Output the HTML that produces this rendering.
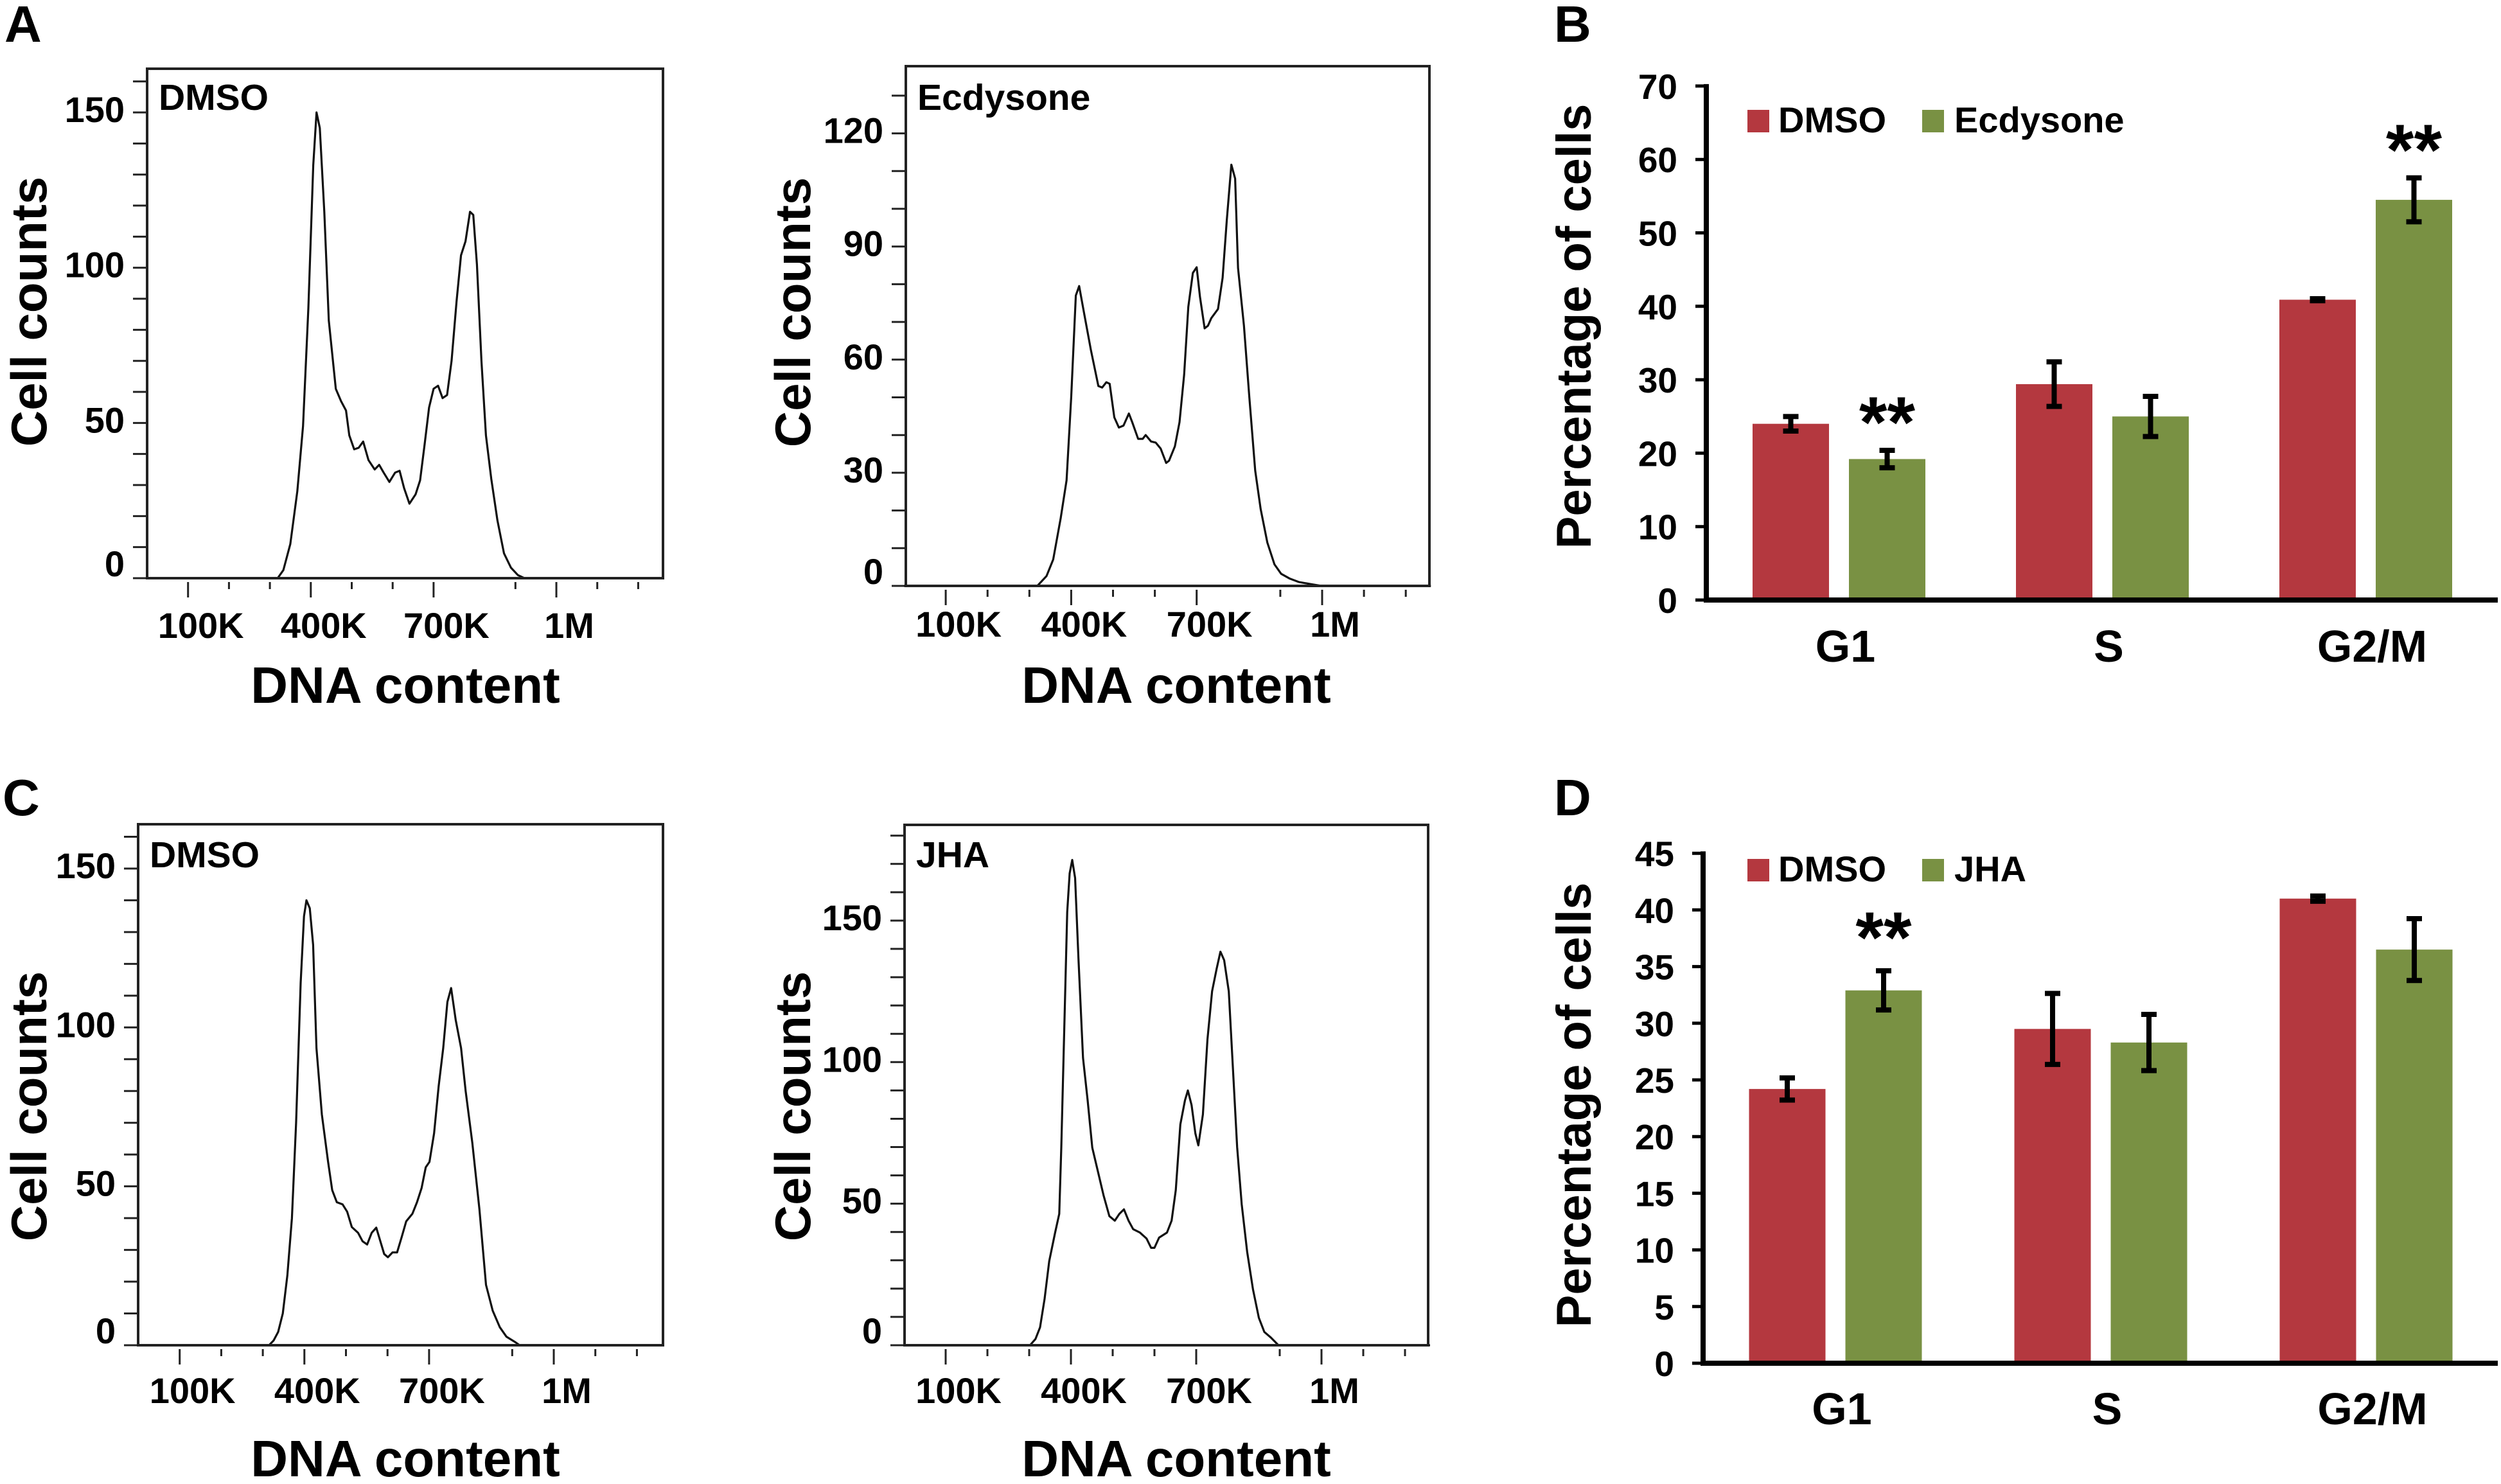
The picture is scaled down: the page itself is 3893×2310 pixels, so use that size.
<!DOCTYPE html>
<html><head><meta charset="utf-8"><style>
html,body{margin:0;padding:0;background:#fff}
svg{display:block}
text{font-family:"Liberation Sans",Arial,sans-serif;font-weight:bold;fill:#000}
</style></head><body>
<svg id="fig" xmlns="http://www.w3.org/2000/svg" width="3893" height="2310" viewBox="0 0 3893 2310">
<rect width="3893" height="2310" fill="#fff"/>
</svg>
<script>
// ---- Histogram data (DNA content in K, cell counts) ----
const hA1x=[0,319,333,350,367,381,394,406,414,422,433,444,461,474,486,494,506,517,528,541,556,567,578,592,606,617,628,641,656,667,678,689,700,711,722,733,744,756,767,778,789,797,806,817,828,841,856,872,889,906,922,1260];
const hA1y=[0,0,2.6,11,28,49,87,133,150,145,118,83,61,57,54,46,41.5,42,44,38,35,36.5,34,31,34,34.6,29,24,27,31.5,43,55,61,62,58,59,70,89,104,108.5,118,117,101,70,46,32,18.6,8,3.4,1,0,0];
const hA2x=[0,319,341,357,375,389,400,411,419,429,447,465,474,484,492,503,514,525,538,546,560,571,578,591,602,614,627,634,648,659,670,680,691,700,708,719,727,735,751,762,772,783,792,799,813,826,840,853,869,886,902,923,945,977,998,1260];
const hA2y=[0,0,2.6,7,18,28,50,77,79.5,73.4,62.6,53,52.6,54,53.6,44.7,42,42.5,45.7,43.4,39,39,40,38.3,38,36.4,32.6,33.2,37,43.4,56,74,83,84.5,76.6,68.3,69,71,73.4,81.7,97,111.7,108,84.3,69,50,30.6,20.4,11.5,5.7,3.2,1.9,1,0.4,0,0];
const hC1x=[0,315,326,337,348,359,370,380,391,399,405,413,421,429,442,457,467,478,492,503,514,529,540,551,562,573,582,592,601,612,623,634,645,660,671,682,692,701,712,723,734,744,753,764,777,788,804,821,837,853,870,886,908,918,1260];
const hC1y=[0,0,1.5,4.2,10,22,40,70,114,135,140,137.5,126,93.5,72.6,57.7,48.8,45,44.3,42,37.2,35.4,32.7,31.7,35.4,37,33,28.7,27.7,29.2,29.2,34,39,41.4,45,49.5,56,57.7,66.7,81.5,93.5,108,112.4,102.4,93.5,80,63.7,42.9,19,10.9,5.7,2.7,0.9,0,0];
const hC2x=[0,302,315,326,337,348,362,372,377,384,391,397,403,410,418,429,440,451,462,478,492,505,516,527,538,549,565,581,592,600,611,630,641,651,662,673,680,689,698,705,716,727,738,749,758,767,778,789,798,809,822,836,850,863,879,897,1260];
const hC2y=[0,0,2.2,6.3,16.4,29.7,39.7,46.4,70,111.6,153,166.7,171.4,165,136.6,101.5,86.5,69.8,63,53,45.6,44,46.4,48,44,41,39.8,37.7,34.4,34.4,38,39.8,44,54.8,78,86.5,90,84.8,74.8,70.6,81.5,108,125,133,139,136,125,95,70,49.8,33,19.7,9.7,4.7,2.7,0,0];
const xTickVals=[100,200,300,400,500,600,700,900,1000,1100,1200];
const xTickLabels=["100K","400K","700K","1M"];
const xLabelVals=[100,400,700,1000];

// ---- Bar chart data ----
const phases=["G1","S","G2/M"];
const bDmso=[24.0,29.4,40.9];
const bEcd=[19.2,25.0,54.5];
const bDmsoErr=[1.25,3.3,0.4];
const bEcdErr=[1.45,3.0,3.25];
const bSig=["**","","**"];
const bTicks=[0,10,20,30,40,50,60,70];
const dDmso=[24.2,29.5,41.0];
const dJha=[32.9,28.3,36.5];
const dDmsoErr=[1.15,3.3,0.4];
const dJhaErr=[1.9,2.65,2.9];
const dSig=["**","",""];
const dTicks=[0,5,10,15,20,25,30,35,40,45];

const NS="http://www.w3.org/2000/svg";
const svg=document.getElementById('fig');
function mk(tag,attrs,parent,txt){const e=document.createElementNS(NS,tag);for(const k in attrs)e.setAttribute(k,attrs[k]);if(txt!==undefined)e.textContent=txt;(parent||svg).appendChild(e);return e;}

function histogram(cfg,xs,ys){
  const g=mk('g',{});
  
  
  const X=v=>cfg.x0+v*cfg.pxK/100;
  const Y=v=>cfg.base-v*cfg.pu;
  for(let v=0;v<=cfg.ymaxTick;v+=10){
    const t=mk('line',{x1:cfg.left-22,x2:cfg.left,y1:Y(v),y2:Y(v),stroke:'#222','stroke-width':3},g);
    
    
  }
  cfg.yLabels.forEach(v=>{
    const t=mk('text',{x:cfg.left-35,y:Y(v)+19-(v===0?22:4),'text-anchor':'end','font-size':56},g,String(v));
    
    
  });
  xTickVals.forEach(v=>{
    const major=xLabelVals.indexOf(v)>=0;
    const t=mk('line',{x1:X(v),x2:X(v),y1:cfg.base+6,y2:cfg.base+(major?30:17),stroke:'#222','stroke-width':3},g);
    
    
  });
  xLabelVals.forEach((v,i)=>{
    const t=mk('text',{x:X(v)+20,y:cfg.labBase,'text-anchor':'middle','font-size':56},g,xTickLabels[i]);
    
    
  });
  const pts=xs.map((x,i)=>X(x).toFixed(1)+','+Y(ys[i]).toFixed(1)).join(' ');
  const c=mk('polyline',{points:pts,fill:'none',stroke:'#111','stroke-width':3.2,'stroke-linejoin':'round'},g);
  
  
  const b=mk('rect',{x:cfg.left,y:cfg.top,width:cfg.right-cfg.left,height:cfg.base-cfg.top,fill:'none',stroke:'#222','stroke-width':4},g);
  
  
  const tl=mk('text',{x:cfg.left+18,y:cfg.tagBase,'font-size':57},g,cfg.tag);
  
  
  const yt=mk('text',{x:0,y:0,'text-anchor':'middle','font-size':78,transform:`translate(${cfg.ytX},${cfg.ytY}) rotate(-90)`},g,'Cell counts');
  
  
  const xt=mk('text',{x:cfg.xtX,y:cfg.xtBase,'text-anchor':'middle','font-size':80},g,'DNA content');
  
  
}

histogram({name:'histogram-a-dmso',left:229,right:1032,top:107,base:900,x0:229,pxK:63.7,pu:4.833,ymaxTick:160,yLabels:[0,50,100,150],labBase:993,tag:'DMSO',tagBase:171,ytX:72,ytY:485,xtX:631,xtBase:1094},hA1x,hA1y);
histogram({name:'histogram-a-ecdysone',left:1410,right:2225,top:103,base:912,x0:1407,pxK:65.1,pu:5.87,ymaxTick:130,yLabels:[0,30,60,90,120],labBase:991,tag:'Ecdysone',tagBase:171,ytX:1261,ytY:486,xtX:1831,xtBase:1094},hA2x,hA2y);
histogram({name:'histogram-c-dmso',left:215,right:1032,top:1283,base:2094,x0:215,pxK:64.7,pu:4.947,ymaxTick:160,yLabels:[0,50,100,150],labBase:2184,tag:'DMSO',tagBase:1350,ytX:72,ytY:1722,xtX:631,xtBase:2298},hC1x,hC1y);
histogram({name:'histogram-c-jha',left:1408,right:2223,top:1284,base:2094,x0:1407,pxK:65,pu:4.407,ymaxTick:180,yLabels:[0,50,100,150],labBase:2184,tag:'JHA',tagBase:1350,ytX:1261,ytY:1722,xtX:1831,xtBase:2298},hC2x,hC2y);

function barChart(cfg,d1,d2,e1,e2,sig,ticks,names){
  const g=mk('g',{});
  
  
  const Y=v=>cfg.base-v*cfg.pu;
  const GX=i=>cfg.g0+i*cfg.gs;
  ticks.forEach(v=>{
    const t=mk('line',{x1:cfg.axisX-17,x2:cfg.axisX,y1:Y(v),y2:Y(v),stroke:'#000','stroke-width':5},g);
    
    
    const l=mk('text',{x:cfg.axisX-45,y:Y(v)+20,'text-anchor':'end','font-size':55},g,String(v));
    
    
  });
  const series=[[d1,e1,'#b4383f','dmso'],[d2,e2,'#799143',cfg.s2]];
  phases.forEach((p,i)=>{
    series.forEach((s,k)=>{
      const cx=GX(i)+(k?75:-75);
      const r=mk('rect',{x:cx-59.5,y:Y(s[0][i]),width:119,height:cfg.base-Y(s[0][i]),fill:s[2]},g);
      
      
      const hi=Y(s[0][i]+s[1][i]),lo=Y(s[0][i]-s[1][i]);
      const eb=mk('path',{d:`M${cx},${hi}V${lo}M${cx-12},${hi+3}H${cx+12}M${cx-12},${lo-3}H${cx+12}`,stroke:'#000','stroke-width':8,fill:'none'},g);
      
      
    });
    if(sig[i]){
      const cx=GX(i)+75;
      const st=mk('text',{x:cx,y:Y(d2[i]+e2[i])-cfg.sigOff,'text-anchor':'middle','font-size':112,'font-weight':'normal'},g,sig[i]);
      
      
    }
    const xl=mk('text',{x:GX(i)+10,y:cfg.xlBase,'text-anchor':'middle','font-size':70},g,p);
    
    
  });
  const ax=mk('path',{d:`M${cfg.axisX},${Y(ticks[ticks.length-1])-3}V${cfg.base}H3888`,stroke:'#000','stroke-width':8,fill:'none'},g);
  
  
  const lg=mk('g',{},g);
  
  
  const r1=mk('rect',{x:2720,y:cfg.legTop,width:34,height:35,fill:'#b4383f'},lg);
  
  
  const t1=mk('text',{x:2768,y:cfg.legTop+35,'font-size':56},lg,'DMSO');
  
  
  const r2=mk('rect',{x:2992,y:cfg.legTop,width:34,height:35,fill:'#799143'},lg);
  
  
  const t2=mk('text',{x:3042,y:cfg.legTop+35,'font-size':56},lg,names);
  
  
  const yt=mk('text',{x:0,y:0,'text-anchor':'middle','font-size':76,transform:`translate(2476,${cfg.ytY}) rotate(-90)`},g,'Percentage of cells');
  
  
}
barChart({name:'bar-chart-b',axisX:2656,base:934,pu:11.43,g0:2862.5,gs:410,xlBase:1030,legTop:171,s2:'ecdysone',ytY:508,sigOff:2},bDmso,bEcd,bDmsoErr,bEcdErr,bSig,bTicks,'Ecdysone');
barChart({name:'bar-chart-d',axisX:2651,base:2122,pu:17.64,g0:2857,gs:413,xlBase:2217,legTop:1337,s2:'jha',ytY:1720,sigOff:10},dDmso,dJha,dDmsoErr,dJhaErr,dSig,dTicks,'JHA');

[['A',7,65],['B',2419,65],['C',4,1269],['D',2419,1269]].forEach(p=>{
  const t=mk('text',{x:p[1],y:p[2],'font-size':80},svg,p[0]);
  
  
});
</script>
</body></html>
